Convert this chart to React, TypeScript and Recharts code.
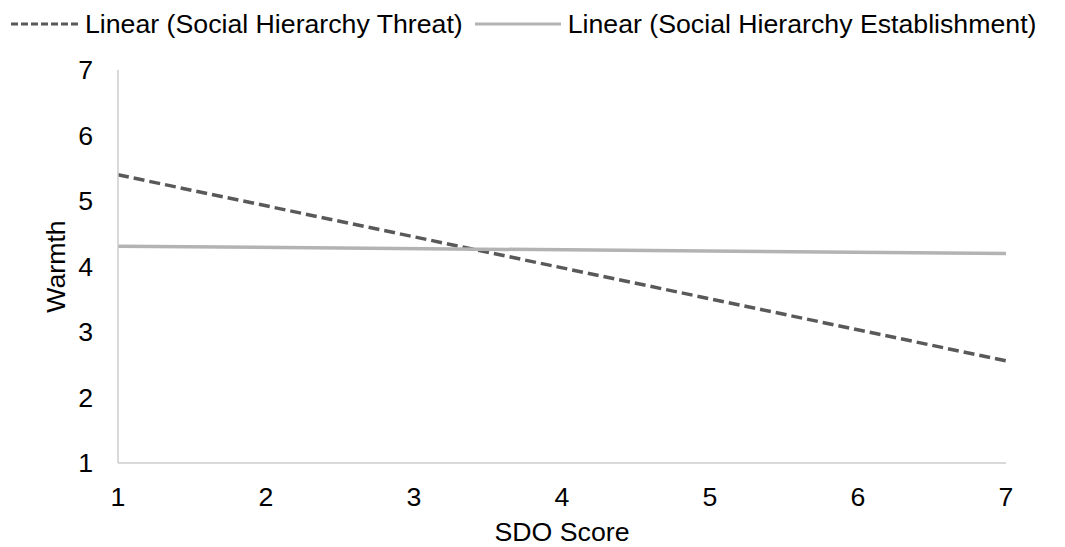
import React from "react";
import { LineChart, Line, XAxis, YAxis, Legend } from "recharts";

const sdoScores: number[] = [1, 7];
const threatWarmth: number[] = [5.4, 2.56];
const establishmentWarmth: number[] = [4.31, 4.2];
const xTicks: number[] = [1, 2, 3, 4, 5, 6, 7];
const yTicks: number[] = [1, 2, 3, 4, 5, 6, 7];

const threatName = "Linear (Social Hierarchy Threat)";
const establishmentName = "Linear (Social Hierarchy Establishment)";

const data = sdoScores.map((sdo, i) => ({
  sdo,
  threat: threatWarmth[i],
  establishment: establishmentWarmth[i],
}));

const FONT = "'Liberation Sans', Arial, sans-serif";
const THREAT_COLOR = "#595959";
const EST_COLOR = "#b3b3b3";
const AXIS_COLOR = "#cccccc";

const LegendBox = () => (
  <div
    style={{
      height: 70,
      display: "flex",
      alignItems: "flex-start",
      paddingLeft: 11,
      fontFamily: FONT,
      fontSize: 26.7,
      color: "#000",
    }}
  >
    <div style={{ display: "flex", alignItems: "center", height: 48 }}>
      <svg width={68} height={6}>
        <line x1={0} y1={3} x2={68} y2={3} stroke={THREAT_COLOR} strokeWidth={3} strokeDasharray="7 3" />
      </svg>
      <span style={{ marginLeft: 6, whiteSpace: "nowrap" }}>{threatName}</span>
    </div>
    <div style={{ display: "flex", alignItems: "center", height: 48, marginLeft: 12 }}>
      <svg width={86} height={6}>
        <line x1={0} y1={3} x2={86} y2={3} stroke={EST_COLOR} strokeWidth={3} />
      </svg>
      <span style={{ marginLeft: 7, whiteSpace: "nowrap" }}>{establishmentName}</span>
    </div>
  </div>
);

const tickStyle = { fill: "#000", fontSize: 26.7, fontFamily: FONT };

export default function App() {
  return (
    <div style={{ position: "absolute", left: 0, top: 0 }}>
      <LineChart
        width={1065}
        height={547}
        data={data}
        margin={{ top: 0, right: 59, left: 0, bottom: 0 }}
      >
        <Legend
          verticalAlign="top"
          content={() => <LegendBox />}
          wrapperStyle={{ left: 0, top: 0, width: 1065 }}
        />
        <XAxis
          type="number"
          dataKey="sdo"
          domain={[1, 7]}
          ticks={xTicks}
          height={84}
          tickLine={false}
          tickSize={0}
          tickMargin={24}
          axisLine={{ stroke: AXIS_COLOR, strokeWidth: 1.5 }}
          tick={tickStyle}
          label={({ viewBox }: any) => (
            <text
              x={viewBox.x + viewBox.width / 2}
              y={viewBox.y + 78}
              textAnchor="middle"
              fontSize={26.7}
              fontFamily={FONT}
              fill="#000"
            >
              SDO Score
            </text>
          )}
        />
        <YAxis
          type="number"
          domain={[1, 7]}
          ticks={yTicks}
          width={118}
          tickLine={false}
          tickSize={0}
          tickMargin={25}
          axisLine={{ stroke: AXIS_COLOR, strokeWidth: 1.5 }}
          tick={tickStyle}
          label={({ viewBox }: any) => {
            const cx = 65;
            const cy = viewBox.y + viewBox.height / 2;
            return (
              <text
                x={cx}
                y={cy}
                transform={`rotate(-90, ${cx}, ${cy})`}
                textAnchor="middle"
                fontSize={26.7}
                fontFamily={FONT}
                fill="#000"
              >
                Warmth
              </text>
            );
          }}
        />
        <Line
          type="linear"
          dataKey="threat"
          name={threatName}
          stroke={THREAT_COLOR}
          strokeWidth={3.5}
          strokeDasharray="11 5"
          dot={false}
          activeDot={false}
          isAnimationActive={false}
        />
        <Line
          type="linear"
          dataKey="establishment"
          name={establishmentName}
          stroke={EST_COLOR}
          strokeWidth={3.5}
          dot={false}
          activeDot={false}
          isAnimationActive={false}
        />
      </LineChart>
    </div>
  );
}
